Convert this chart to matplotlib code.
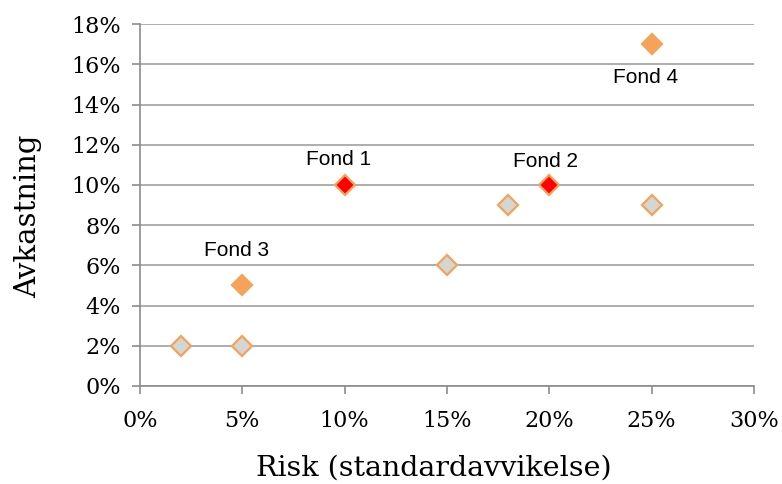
import matplotlib.pyplot as plt
from matplotlib.ticker import FuncFormatter

# other portfolios (grey)
risk_other = [2, 5, 15, 18, 25]
return_other = [2, 2, 6, 9, 9]
# orange funds (Fond 3, Fond 4)
risk_orange = [5, 25]
return_orange = [5, 17]
# red funds (Fond 1, Fond 2)
risk_red = [10, 20]
return_red = [10, 10]

labels = ['Fond 1', 'Fond 2', 'Fond 3', 'Fond 4']
label_x = [9.7, 19.8, 4.7, 24.7]
label_y = [11.25, 11.15, 6.75, 15.35]

fig = plt.figure(figsize=(7.82, 4.84), dpi=100)
ax = fig.add_axes([0.179, 0.2025, 0.785, 0.7475])

ax.plot(risk_other, return_other, 'D', ms=10.5, mfc='#d3d6d3', mec='#f5a25a', mew=1.6, ls='none', zorder=3)
ax.plot(risk_orange, return_orange, 'D', ms=10.5, mfc='#f5a25a', mec='#f5a25a', mew=1.6, ls='none', zorder=3)
ax.plot(risk_red, return_red, 'D', ms=10.5, mfc='#ff0000', mec='#f5a25a', mew=1.6, ls='none', zorder=3)

for t, x, y in zip(labels, label_x, label_y):
    ax.text(x, y, t, ha='center', va='center', fontsize=15, family='Liberation Sans')

ax.set_xlim(0, 30)
ax.set_ylim(0, 18)
ax.set_xticks(range(0, 31, 5))
ax.set_yticks(range(0, 19, 2))
pct = FuncFormatter(lambda v, p: f'{v:.0f}%')
ax.xaxis.set_major_formatter(pct)
ax.yaxis.set_major_formatter(pct)

ax.grid(axis='y', color='#a0a0a0', lw=1.2)
ax.set_axisbelow(True)
for s in ['top', 'right']:
    ax.spines[s].set_visible(False)
for s in ['left', 'bottom']:
    ax.spines[s].set_color('#8c8c8c')
    ax.spines[s].set_linewidth(1.2)
ax.tick_params(color='#8c8c8c', length=6, width=1.2, labelsize=16)
ax.tick_params(axis='y', pad=8)
ax.tick_params(axis='x', pad=11)
for lab in ax.get_xticklabels() + ax.get_yticklabels():
    lab.set_family('DejaVu Serif')

ax.set_xlabel('Risk (standardavvikelse)', family='DejaVu Serif', fontsize=20.5)
ax.set_ylabel('Avkastning', family='DejaVu Serif', fontsize=21)
ax.xaxis.set_label_coords(0.479, -0.19)
ax.yaxis.set_label_coords(-0.16, 0.47)

fig.savefig('out.png', dpi=100)
